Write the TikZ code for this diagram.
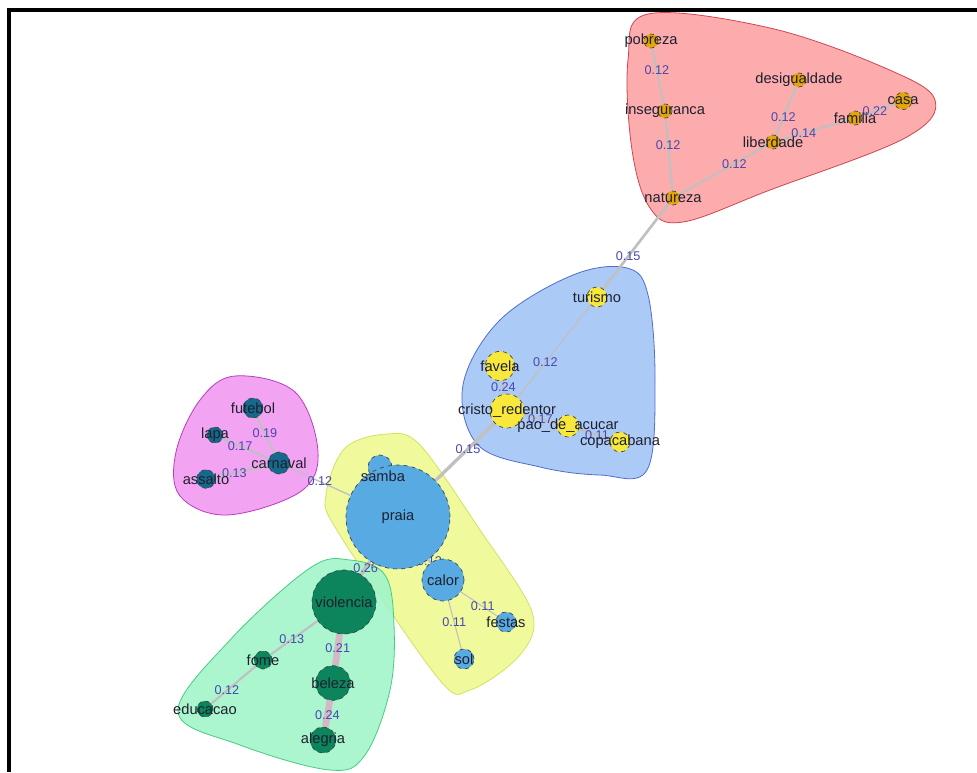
\documentclass[tikz,border=0pt]{standalone}
\usepackage{fontspec}
\setmainfont{Liberation Sans}
\usetikzlibrary{positioning}

\definecolor{ornode}{RGB}{228,165,10}
\definecolor{yenode}{RGB}{248,232,60}
\definecolor{tenode}{RGB}{22,104,140}
\definecolor{lbnode}{RGB}{88,170,226}
\definecolor{grnode}{RGB}{12,132,92}
\definecolor{redhull}{RGB}{252,172,172}
\definecolor{redline}{RGB}{205,70,80}
\definecolor{bluhull}{RGB}{172,202,246}
\definecolor{bluline}{RGB}{80,110,205}
\definecolor{maghull}{RGB}{242,164,242}
\definecolor{magline}{RGB}{185,60,190}
\definecolor{yelhull}{RGB}{240,250,156}
\definecolor{yelline}{RGB}{212,224,100}
\definecolor{grnhull}{RGB}{162,244,202}
\definecolor{grnline}{RGB}{70,205,130}
\definecolor{edgecol}{RGB}{192,192,192}
\definecolor{heavyedge}{RGB}{212,184,200}
\definecolor{wcol}{RGB}{72,72,172}
\definecolor{vtext}{RGB}{30,32,45}

\pgfdeclarelayer{hulls}
\pgfdeclarelayer{edges}
\pgfsetlayers{hulls,edges,main}

\begin{document}
\begin{tikzpicture}[x=0.75pt,y=-0.75pt,
    every label/.style={font=\fontsize{11}{13}\selectfont,text=vtext},
    vert/.style={circle,draw=black!75,dashed,line width=0.5pt,inner sep=0pt,
      label distance=0pt},
    wlabel/.style={font=\fontsize{9.5}{11}\selectfont,text=wcol,inner sep=1pt},
    link/.style={edgecol,line width=1.6pt},
    hull/.style={line width=0.6pt}]
  \useasboundingbox (0,0) rectangle (977,772);

  \begin{pgfonlayer}{hulls}
  \fill[white] (0,0) rectangle (977,772);
  % frame
  \draw[line width=3pt] (9,772) -- (9,10) -- (977,10);
  % group hulls
  \draw[hull,fill=redhull,draw=redline] plot[smooth cycle,tension=0.6] coordinates
    {(628,60) (648,14) (770,28) (885,68) (935,100) (905,138) (770,190) (683,222) (650,208) (632,150)};
  \draw[hull,fill=bluhull,draw=bluline] plot[smooth cycle,tension=0.6] coordinates
    {(627,268) (648,295) (655,380) (647,470) (600,475) (540,467) (478,445) (463,385) (500,320) (573,275)};
  \draw[hull,fill=maghull,draw=magline] plot[smooth cycle,tension=0.6] coordinates
    {(235,376) (295,392) (318,452) (300,492) (227,515) (180,496) (176,452) (200,400)};
  \draw[hull,fill=yelhull,draw=yelline] plot[smooth cycle,tension=0.55] coordinates
    {(387,434) (420,445) (480,530) (532,612) (520,655) (470,690) (438,678) (338,532) (326,495) (345,448)};
  \draw[hull,fill=grnhull,draw=grnline,fill opacity=0.9] plot[smooth cycle,tension=0.6] coordinates
    {(350,560) (385,575) (394,625) (390,690) (365,755) (330,770) (240,745) (178,712) (230,640) (310,568)};
  \end{pgfonlayer}

  % vertices
  \node[vert,fill=ornode,minimum size=10.5pt,label={center:pobreza}] (pobreza) at (651,41) {};
  \node[vert,fill=ornode,minimum size=10.5pt,label={center:inseguranca}] (inseguranca) at (665,111) {};
  \node[vert,fill=ornode,minimum size=10.5pt,label={center:natureza}] (natureza) at (673,198) {};
  \node[vert,fill=ornode,minimum size=10.5pt,label={center:desigualdade}] (desigualdade) at (799,80) {};
  \node[vert,fill=ornode,minimum size=10.5pt,label={center:liberdade}] (liberdade) at (773,142) {};
  \node[vert,fill=ornode,minimum size=10.5pt,label={center:familia}] (familia) at (855,118) {};
  \node[vert,fill=ornode,minimum size=13pt,label={center:casa}] (casa) at (903,101) {};

  \node[vert,fill=yenode,minimum size=15pt,label={center:turismo}] (turismo) at (597,297) {};
  \node[vert,fill=yenode,minimum size=22pt,label={center:favela}] (favela) at (500,366) {};
  \node[vert,fill=yenode,minimum size=25.5pt,label={center:cristo\_redentor}] (cristo) at (507,411) {};
  \node[vert,fill=yenode,minimum size=16.5pt,label={center:pao\_de\_acucar}] (pao) at (568,426) {};
  \node[vert,fill=yenode,minimum size=15pt,label={center:copacabana}] (copacabana) at (620,442) {};

  \node[vert,fill=tenode,minimum size=15pt,label={center:futebol}] (futebol) at (253,408) {};
  \node[vert,fill=tenode,minimum size=12pt,label={center:lapa}] (lapa) at (215,435) {};
  \node[vert,fill=tenode,minimum size=16.5pt,label={center:carnaval}] (carnaval) at (279,463) {};
  \node[vert,fill=tenode,minimum size=14pt,label={center:assalto}] (assalto) at (206,479) {};

  \node[vert,fill=lbnode,minimum size=18pt] (samba) at (380,467) {};
  \node[vert,fill=lbnode,minimum size=78pt,label={center:praia}] (praia) at (398,517) {};
  \node[font=\fontsize{11}{13}\selectfont,text=vtext] (sambatxt) at (383,476) {samba};
  \node[vert,fill=lbnode,minimum size=31.5pt,label={center:calor}] (calor) at (443,580) {};
  \node[vert,fill=lbnode,minimum size=15pt,label={center:festas}] (festas) at (506,622) {};
  \node[vert,fill=lbnode,minimum size=15pt,label={center:sol}] (sol) at (464,659) {};

  \node[vert,fill=grnode,minimum size=48pt,label={center:violencia}] (violencia) at (344,602) {};
  \node[vert,fill=grnode,minimum size=13.5pt,label={center:fome}] (fome) at (263,660) {};
  \node[vert,fill=grnode,minimum size=26pt,label={center:beleza}] (beleza) at (333,683) {};
  \node[vert,fill=grnode,minimum size=12pt,label={center:educacao}] (educacao) at (205,709) {};
  \node[vert,fill=grnode,minimum size=19.5pt,label={center:alegria}] (alegria) at (323,740) {};

  % edges with weights, under the vertices
  \begin{pgfonlayer}{edges}
  \draw[link] (pobreza) -- node[wlabel,pos=0.4] {0.12} (inseguranca);
  \draw[link] (inseguranca) -- node[wlabel,pos=0.37] {0.12} (natureza);
  \draw[link] (natureza) -- node[wlabel,pos=0.63] {0.12} (liberdade);
  \draw[link] (liberdade) -- node[wlabel,pos=0.37] {0.12} (desigualdade);
  \draw[link] (liberdade) -- node[wlabel,pos=0.35] {0.14} (familia);
  \draw[link] (familia) -- node[wlabel,pos=0.4] {0.22} (casa);
  \draw[link,line width=2pt] (natureza) -- node[wlabel,pos=0.62] {0.15} (turismo);
  \draw[link,line width=1pt] (turismo) -- node[wlabel,pos=0.62] {0.12} (cristo);
  \draw[link] (favela) -- node[wlabel,pos=0.5] {0.24} (cristo);
  \draw[link] (cristo) -- node[wlabel,pos=0.5] {0.17} (pao);
  \draw[link] (pao) -- node[wlabel,pos=0.58] {0.11} (copacabana);
  \draw[link] (futebol) -- node[wlabel,pos=0.45] {0.19} (carnaval);
  \draw[link] (lapa) -- node[wlabel,pos=0.38] {0.17} (carnaval);
  \draw[link] (assalto) -- node[wlabel,pos=0.36] {0.13} (carnaval);
  \draw[link,line width=1pt] (carnaval) -- node[wlabel,pos=0.5] {0.12} (praia);
  \draw[link,line width=2.5pt] (cristo) -- node[wlabel,pos=0.45] {0.15} (praia);
  \draw[link,line width=0.8pt] (calor) -- node[wlabel,pos=0.6] {0.11} (festas);
  \draw[link,line width=0.8pt] (calor) -- node[wlabel,pos=0.45] {0.11} (sol);
  \draw[link] (praia) -- node[wlabel,pos=0.5] {0.13} (calor);
  \draw[link,line width=2.5pt] (praia) -- node[wlabel,pos=0.5] {0.26} (violencia);
  \draw[link] (violencia) -- node[wlabel,pos=0.55] {0.13} (fome);
  \draw[link] (fome) -- node[wlabel,pos=0.65] {0.12} (educacao);
  \draw[link,heavyedge,line width=5pt] (violencia) -- node[wlabel,pos=0.45] {0.21} (beleza);
  \draw[link,heavyedge,line width=5pt] (beleza) -- node[wlabel,pos=0.55] {0.24} (alegria);
  \end{pgfonlayer}
\end{tikzpicture}
\end{document}
